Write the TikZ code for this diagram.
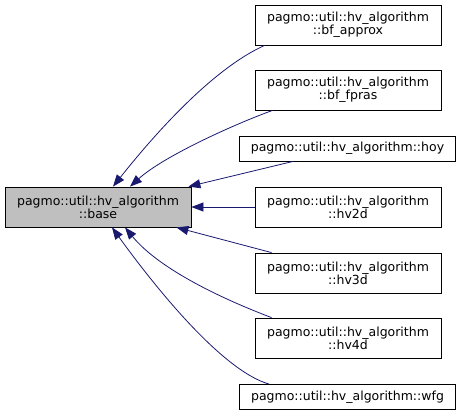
\documentclass[tikz,border=0pt]{standalone}
\usepackage{fontspec}
\setmainfont{DejaVu Sans}
\usepackage{tikz}
\usetikzlibrary{arrows.meta,positioning}
\definecolor{dxNavy}{HTML}{191970}
\definecolor{dxGrey}{HTML}{BFBFBF}

\begin{document}
\begin{tikzpicture}[x=1pt,y=-1pt,font=\fontsize{12.5}{13}\selectfont,
    cls/.style={draw=black,fill=white,line width=0.8pt,minimum width=186pt,
                minimum height=40pt,inner sep=2pt,align=center},
    basecls/.style={cls,fill=dxGrey},
    wide/.style={cls,minimum width=216pt,minimum height=25pt},
    arr/.style={-{Triangle[length=12pt,width=9pt]},dxNavy,line width=0.8pt}]
  \useasboundingbox (0,0) rectangle (461,416);
  \node[basecls] (base) at (98,207) {pagmo::util::hv\_algorithm\\::base};
  \node[cls]  (bfapprox) at (348,25)    {pagmo::util::hv\_algorithm\\::bf\_approx};
  \node[cls]  (bffpras)  at (348,90)    {pagmo::util::hv\_algorithm\\::bf\_fpras};
  \node[wide] (hoy)      at (347.5,148.5) {pagmo::util::hv\_algorithm::hoy};
  \node[cls]  (hvtwo)    at (348,207)   {pagmo::util::hv\_algorithm\\::hv2d};
  \node[cls]  (hvthree)  at (348,273)   {pagmo::util::hv\_algorithm\\::hv3d};
  \node[cls]  (hvfour)   at (348,338)   {pagmo::util::hv\_algorithm\\::hv4d};
  \node[wide] (wfg)      at (347.5,397) {pagmo::util::hv\_algorithm::wfg};
  \draw[arr] ([xshift=10pt]bfapprox.south west) .. controls (210,70) and (150,140) .. ([xshift=15pt]base.north);
  \draw[arr] ([xshift=18pt]bffpras.south west) .. controls (240,122) and (165,155) .. ([xshift=32pt]base.north);
  \draw[arr] ([xshift=54pt]hoy.south west) -- ([xshift=-3pt]base.north east);
  \draw[arr] (hvtwo.west) -- (base.east);
  \draw[arr] ([xshift=17pt]hvthree.north west) -- ([xshift=-15pt]base.south east);
  \draw[arr] ([xshift=17pt]hvfour.north west) .. controls (225,300) and (160,270) .. ([xshift=27pt]base.south);
  \draw[arr] ([xshift=30pt]wfg.north west) .. controls (220,370) and (150,280) .. ([xshift=14pt]base.south);
\end{tikzpicture}
\end{document}
